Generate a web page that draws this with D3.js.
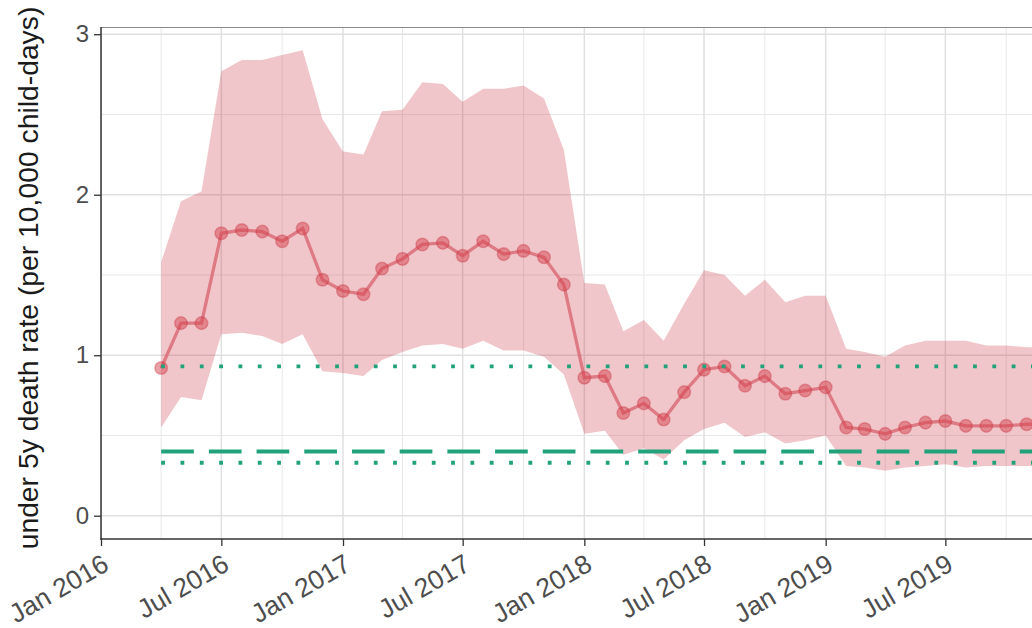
<!DOCTYPE html>
<meta charset="utf-8">
<html>
<head>
    <title>under 5y death rate</title>
</head>
<style>
    *{ margin:0; padding:0;}
    body{ background:#fff;}
    svg text{ font-family:"Liberation Sans", Arial, sans-serif;}
</style>
<script src="https://cdn.jsdelivr.net/npm/d3@7"></script>
<body>
<div id="chartContainer"></div>
<script type="text/javascript">

    // monthly estimates, first of each month
    var months = ["2016-04","2016-05","2016-06","2016-07","2016-08","2016-09","2016-10","2016-11","2016-12",
        "2017-01","2017-02","2017-03","2017-04","2017-05","2017-06","2017-07","2017-08","2017-09","2017-10","2017-11","2017-12",
        "2018-01","2018-02","2018-03","2018-04","2018-05","2018-06","2018-07","2018-08","2018-09","2018-10","2018-11","2018-12",
        "2019-01","2019-02","2019-03","2019-04","2019-05","2019-06","2019-07","2019-08","2019-09","2019-10","2019-11","2019-12"];

    var rate = [0.92,1.20,1.20,1.76,1.78,1.77,1.71,1.79,1.47,
        1.40,1.38,1.54,1.60,1.69,1.70,1.62,1.71,1.63,1.65,1.61,1.44,
        0.86,0.87,0.64,0.70,0.60,0.77,0.91,0.93,0.81,0.87,0.76,0.78,
        0.80,0.55,0.54,0.51,0.55,0.58,0.59,0.56,0.56,0.56,0.57,0.57];

    var upper = [1.58,1.96,2.02,2.77,2.84,2.84,2.87,2.90,2.47,
        2.27,2.25,2.52,2.53,2.70,2.69,2.58,2.66,2.66,2.68,2.60,2.28,
        1.45,1.44,1.15,1.22,1.09,1.32,1.53,1.50,1.37,1.47,1.33,1.37,
        1.37,1.04,1.02,0.99,1.06,1.09,1.09,1.09,1.06,1.06,1.05,1.05];

    var lower = [0.55,0.74,0.72,1.13,1.14,1.12,1.07,1.13,0.90,
        0.89,0.87,0.97,1.02,1.06,1.07,1.04,1.09,1.03,1.03,0.99,0.88,
        0.51,0.53,0.38,0.42,0.35,0.47,0.54,0.58,0.49,0.52,0.45,0.47,
        0.50,0.31,0.30,0.28,0.30,0.31,0.32,0.30,0.31,0.31,0.31,0.31];

    // reference levels (green)
    var refDash = 0.40;
    var refDotted = [0.33, 0.93];
    var refStart = "2016-04";

    var xTicks = ["2016-01","2016-07","2017-01","2017-07","2018-01","2018-07","2019-01","2019-07"];
    var xMinor = ["2016-04","2016-10","2017-04","2017-10","2018-04","2018-10","2019-04","2019-10"];
    var yTicks = [0, 1, 2, 3];
    var yMinor = [0.5, 1.5, 2.5];

    var parse = d3.utcParse("%Y-%m");
    var data = months.map(function (m, i) {
        return { date: parse(m), rate: rate[i], lo: lower[i], hi: upper[i] };
    });

    var W = 1032, H = 628;
    var pLeft = 101, pTop = 27, pBottom = 539;
    var pxPerDay = 0.6612;
    var xEnd = parse("2020-03");
    var x = d3.scaleUtc()
        .domain([parse("2016-01"), xEnd])
        .range([pLeft, pLeft + d3.utcDay.count(parse("2016-01"), xEnd) * pxPerDay]);
    var y = d3.scaleLinear().domain([-0.145, 3.045]).range([pBottom, pTop]);

    var svg = d3.select("#chartContainer").append("svg")
        .attr("width", W).attr("height", H);

    svg.append("clipPath").attr("id", "panel")
        .append("rect").attr("x", pLeft).attr("y", pTop)
        .attr("width", W - pLeft + 10).attr("height", pBottom - pTop);

    var g = svg.append("g").attr("clip-path", "url(#panel)");

    // grid
    g.selectAll(".vmin").data(xMinor).enter().append("line")
        .attr("x1", function (d) { return x(parse(d)); }).attr("x2", function (d) { return x(parse(d)); })
        .attr("y1", pTop).attr("y2", pBottom)
        .attr("stroke", "#e8e8e8").attr("stroke-width", 1);
    g.selectAll(".hmin").data(yMinor).enter().append("line")
        .attr("x1", pLeft).attr("x2", W)
        .attr("y1", function (d) { return y(d); }).attr("y2", function (d) { return y(d); })
        .attr("stroke", "#e8e8e8").attr("stroke-width", 1);
    g.selectAll(".vmaj").data(xTicks).enter().append("line")
        .attr("x1", function (d) { return x(parse(d)); }).attr("x2", function (d) { return x(parse(d)); })
        .attr("y1", pTop).attr("y2", pBottom)
        .attr("stroke", "#e0e0e0").attr("stroke-width", 1.5);
    g.selectAll(".hmaj").data(yTicks).enter().append("line")
        .attr("x1", pLeft).attr("x2", W)
        .attr("y1", function (d) { return y(d); }).attr("y2", function (d) { return y(d); })
        .attr("stroke", "#e0e0e0").attr("stroke-width", 1.5);

    // ribbon
    var area = d3.area()
        .x(function (d) { return x(d.date); })
        .y0(function (d) { return y(d.lo); })
        .y1(function (d) { return y(d.hi); });
    g.append("path").datum(data)
        .attr("d", area)
        .attr("fill", "#c8323f").attr("fill-opacity", 0.28);

    // line + points
    var line = d3.line()
        .x(function (d) { return x(d.date); })
        .y(function (d) { return y(d.rate); });
    g.append("path").datum(data)
        .attr("d", line)
        .attr("fill", "none")
        .attr("stroke", "#d96670").attr("stroke-opacity", 0.8)
        .attr("stroke-width", 3.3);
    g.selectAll(".pt").data(data).enter().append("circle")
        .attr("cx", function (d) { return x(d.date); })
        .attr("cy", function (d) { return y(d.rate); })
        .attr("r", 6.3)
        .attr("fill", "#d6444f").attr("fill-opacity", 0.5)
        .attr("stroke", "#c8323f").attr("stroke-opacity", 0.35)
        .attr("stroke-width", 1.5);

    // reference lines
    var x0 = x(parse(refStart));
    g.append("line")
        .attr("x1", x0).attr("x2", W + 10)
        .attr("y1", y(refDash)).attr("y2", y(refDash))
        .attr("stroke", "#22a27a").attr("stroke-width", 4)
        .attr("stroke-dasharray", "32.7,15");
    g.selectAll(".dot").data(refDotted).enter().append("line")
        .attr("x1", x0).attr("x2", W + 10)
        .attr("y1", function (d) { return y(d); }).attr("y2", function (d) { return y(d); })
        .attr("stroke", "#22a27a").attr("stroke-width", 3.8)
        .attr("stroke-dasharray", "3.8,15.53");

    // panel border + axis lines
    svg.append("line").attr("x1", pLeft).attr("x2", W).attr("y1", pTop + 0.5).attr("y2", pTop + 0.5)
        .attr("stroke", "#8a8a8a").attr("stroke-width", 1.2);

    var yAxis = svg.append("g").attr("transform", "translate(" + pLeft + ",0)")
        .call(d3.axisLeft(y).tickValues(yTicks).tickFormat(d3.format("d")).tickSize(7).tickPadding(5));
    var xAxis = svg.append("g").attr("transform", "translate(0," + pBottom + ")")
        .call(d3.axisBottom(x).tickValues(xTicks.map(parse)).tickFormat(d3.utcFormat("%b %Y")).tickSize(7));

    [yAxis, xAxis].forEach(function (a) {
        a.select(".domain").remove();
        a.selectAll(".tick line").attr("stroke", "#333").attr("stroke-width", 1.3);
        a.selectAll("text").attr("fill", "#4d4d4d").attr("font-size", "24px");
    });
    xAxis.selectAll("text")
        .attr("font-size", "26.5px")
        .attr("y", 0).attr("x", 0).attr("dy", "0.75em")
        .attr("text-anchor", "end")
        .attr("transform", "translate(-1,13) rotate(-30)");

    svg.append("line").attr("x1", pLeft).attr("x2", pLeft).attr("y1", pTop).attr("y2", pBottom + 0.7)
        .attr("stroke", "#333").attr("stroke-width", 1.5);
    svg.append("line").attr("x1", pLeft - 0.7).attr("x2", W).attr("y1", pBottom).attr("y2", pBottom)
        .attr("stroke", "#333").attr("stroke-width", 1.5);

    svg.append("text")
        .attr("transform", "translate(38," + 278 + ") rotate(-90)")
        .attr("text-anchor", "middle")
        .attr("font-size", "28.3px")
        .attr("fill", "#1a1a1a")
        .text("under 5y death rate (per 10,000 child-days)");

</script>
</body>
</html>
